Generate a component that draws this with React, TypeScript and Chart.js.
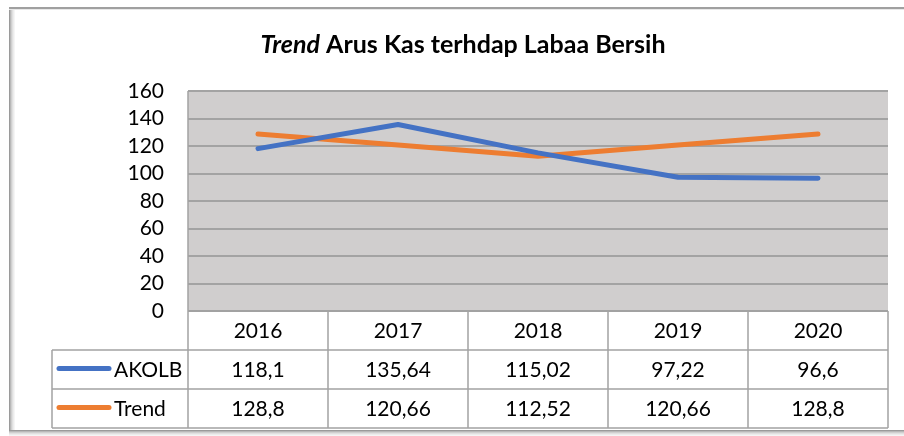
import React, { useEffect, useRef } from "react";
import { Chart, registerables } from "chart.js";

Chart.register(...registerables);

const categories = ["2016", "2017", "2018", "2019", "2020"];
const akolb = [118.1, 135.64, 115.02, 97.22, 96.6];
const trend = [128.8, 120.66, 112.52, 120.66, 128.8];
const seriesNames = ["AKOLB", "Trend"];
const titleItalic = "Trend";
const titleRest = " Arus Kas terhdap Labaa Bersih";

const FONT = "Lato, 'Open Sans', sans-serif";
const BLUE = "#4472C4";
const ORANGE = "#ED7D31";
const GRID = "#A3A3A3";
const TITLE_SIZE = 25;

const fmt = (v: number) => String(v).replace(".", ",");

const framePlugin = {
  id: "frame",
  beforeDraw(chart: any) {
    const ctx = chart.ctx;
    ctx.save();
    ctx.fillStyle = "#ffffff";
    ctx.fillRect(0, 0, chart.width, chart.height);
    const shades = ["#9a9a9a", "#b8b8b8", "#cfcfcf", "#e0e0e0", "#ececec", "#f5f5f5"];
    shades.forEach((c, i) => {
      ctx.fillStyle = c;
      ctx.fillRect(9 + i, 8, 1, 428);
    });
    shades.forEach((c, i) => {
      ctx.fillStyle = c;
      ctx.fillRect(9, 430 + i, 895, 1);
    });
    ctx.fillStyle = "#a0a0a0";
    ctx.fillRect(9, 7, 895, 2);
    ctx.fillStyle = "#e8e8e8";
    ctx.fillRect(9, 9, 895, 1);
    const a = chart.chartArea;
    ctx.fillStyle = "#D0CECE";
    ctx.fillRect(a.left, a.top, a.right - a.left, a.bottom - a.top);
    ctx.restore();
  },
  afterDraw(chart: any) {
    const ctx = chart.ctx;
    const a = chart.chartArea;
    const xs = chart.scales.x;
    ctx.save();
    // title
    ctx.fillStyle = "#000";
    ctx.textBaseline = "middle";
    ctx.font = `italic bold ${TITLE_SIZE}px ${FONT}`;
    const w1 = ctx.measureText(titleItalic).width;
    ctx.font = `bold ${TITLE_SIZE}px ${FONT}`;
    const w2 = ctx.measureText(titleRest).width;
    const tx = 463 - (w1 + w2) / 2;
    ctx.textAlign = "left";
    ctx.font = `italic bold ${TITLE_SIZE}px ${FONT}`;
    ctx.fillText(titleItalic, tx, 45);
    ctx.font = `bold ${TITLE_SIZE}px ${FONT}`;
    ctx.fillText(titleRest, tx + w1, 45);

    // table
    const n = categories.length;
    const colW = (a.right - a.left) / n;
    const rowH = 39;
    const top = a.bottom;
    const legendLeft = 52;
    const y1 = top + rowH;
    const y2 = y1 + rowH;
    const y3 = y2 + rowH;
    ctx.strokeStyle = GRID;
    ctx.lineWidth = 1.5;
    ctx.beginPath();
    ctx.moveTo(a.left, a.top);
    ctx.lineTo(a.left, y3);
    ctx.moveTo(a.left, top);
    ctx.lineTo(a.right, top);
    [y1, y2, y3].forEach((y) => {
      ctx.moveTo(legendLeft, y);
      ctx.lineTo(a.right, y);
    });
    ctx.moveTo(legendLeft, y1);
    ctx.lineTo(legendLeft, y3);
    for (let i = 1; i <= n; i++) {
      const x = a.left + colW * i;
      ctx.moveTo(x, top);
      ctx.lineTo(x, y3);
    }
    ctx.stroke();

    ctx.font = `21px ${FONT}`;
    ctx.fillStyle = "#000";
    ctx.textAlign = "center";
    ctx.textBaseline = "middle";
    const rows = [akolb, trend];
    categories.forEach((c, i) => {
      const cx = xs.getPixelForValue(i);
      ctx.fillText(c, cx, top + rowH / 2 + 1);
      rows.forEach((r, j) => {
        ctx.fillText(fmt(r[i]), cx, top + rowH * (j + 1) + rowH / 2 + 1);
      });
    });
    const colors = [BLUE, ORANGE];
    seriesNames.forEach((name, j) => {
      const cy = top + rowH * (j + 1) + rowH / 2;
      ctx.strokeStyle = colors[j];
      ctx.lineWidth = 5;
      ctx.lineCap = "round";
      ctx.beginPath();
      ctx.moveTo(59, cy - 1);
      ctx.lineTo(109, cy - 1);
      ctx.stroke();
      ctx.textAlign = "left";
      ctx.fillText(name, 114, cy + 1);
    });
    ctx.restore();
  },
};

export default function App() {
  const ref = useRef<HTMLCanvasElement | null>(null);
  useEffect(() => {
    document.body.style.margin = "0";
    const canvas = ref.current!;
    const chart = new Chart(canvas, {
      type: "line",
      data: {
        labels: categories,
        datasets: [
          {
            label: seriesNames[0],
            data: akolb,
            borderColor: BLUE,
            backgroundColor: BLUE,
            borderWidth: 5,
            borderCapStyle: "round",
            borderJoinStyle: "round",
            pointRadius: 0,
            tension: 0,
          },
          {
            label: seriesNames[1],
            data: trend,
            borderColor: ORANGE,
            backgroundColor: ORANGE,
            borderWidth: 5,
            borderCapStyle: "round",
            borderJoinStyle: "round",
            pointRadius: 0,
            tension: 0,
          },
        ],
      },
      options: {
        animation: false,
        responsive: false,
        maintainAspectRatio: false,
        devicePixelRatio: 1,
        layout: { padding: { top: 91, bottom: 125, left: 0, right: 16 } },
        plugins: {
          legend: { display: false },
          title: { display: false },
          tooltip: { enabled: false },
        },
        scales: {
          x: {
            offset: true,
            ticks: { display: false },
            grid: { display: false, drawTicks: false },
            border: { display: false },
            afterFit: (s: any) => {
              s.height = 0;
            },
          },
          y: {
            min: 0,
            max: 160,
            ticks: {
              stepSize: 20,
              autoSkip: false,
              padding: 24,
              color: "#000",
              font: { family: FONT, size: 21 },
            },
            grid: { color: GRID, lineWidth: 2, drawTicks: false },
            border: { display: false },
            afterFit: (s: any) => {
              s.width = 188;
            },
          },
        },
      },
      plugins: [framePlugin],
    } as any);
    return () => chart.destroy();
  }, []);
  return <canvas ref={ref} width={904} height={436} style={{ display: "block" }} />;
}
